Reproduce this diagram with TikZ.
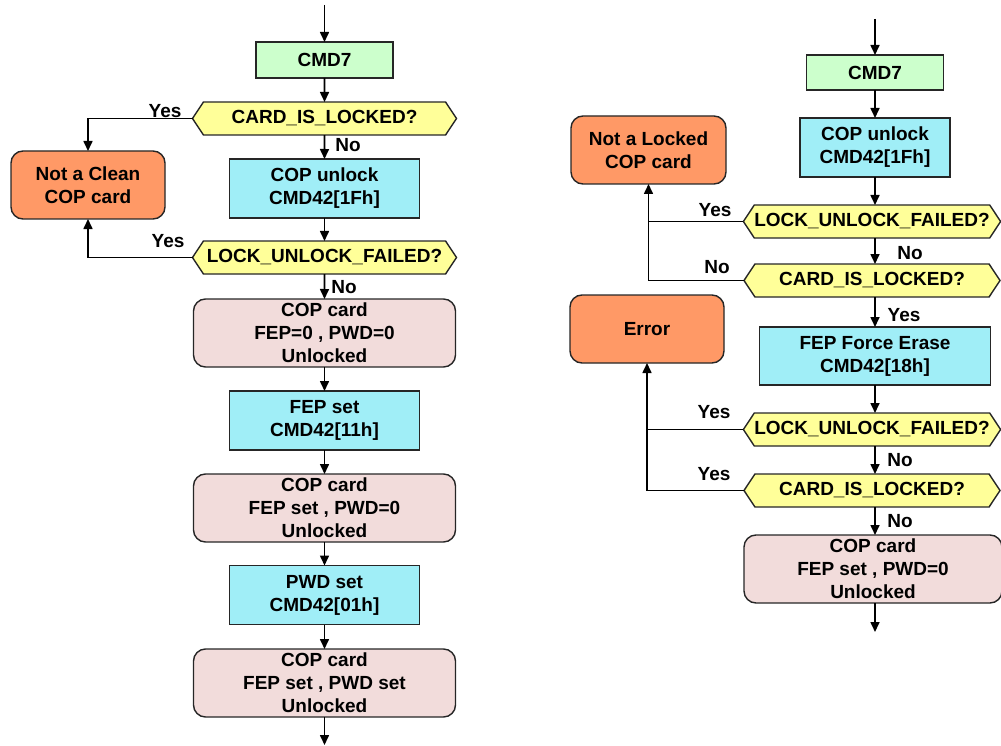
\documentclass[tikz,border=0pt]{standalone}
\usepackage{fontspec}
\setmainfont{Liberation Sans}
\usetikzlibrary{arrows.meta,shapes.symbols,calc}
\definecolor{cgreen}{HTML}{CCFFCC}
\definecolor{ccyan}{HTML}{A0EEF7}
\definecolor{corange}{HTML}{FF9966}
\definecolor{cpink}{HTML}{F2DCDB}
\definecolor{cyellow}{HTML}{FFFF99}
\definecolor{cborder}{HTML}{262626}
\begin{document}
\begin{tikzpicture}[x=1pt,y=-1pt,
  every node/.style={font=\fontsize{19}{23}\selectfont\bfseries, inner sep=0pt, outer sep=0pt, align=center},
  boxbase/.style={draw=cborder, line width=1.4pt, rectangle},
  cmdbox/.style={boxbase, fill=cgreen, minimum width=137pt, minimum height=36pt},
  opbox/.style={boxbase, fill=ccyan, minimum height=59pt},
  statebox/.style={boxbase, fill=cpink, rounded corners=12pt, minimum width=262pt, minimum height=68pt},
  errbox/.style={boxbase, fill=corange, rounded corners=12pt, minimum width=154pt, minimum height=68pt},
  hexbox/.style={draw=cborder, line width=1.4pt, fill=cyellow, signal, signal to=west and east,
     signal pointer angle=113, minimum width=264pt, minimum height=33pt},
  lbl/.style={draw=none, fill=none},
  conn/.style={line width=1.6pt, -{Triangle[length=10pt,width=9pt]}},
  plainline/.style={line width=1.6pt}]
\useasboundingbox (0,0) rectangle (1001,746);
\clip (0,0) rectangle (1001,746);

% ---------- left column ----------
\coordinate (startL) at (324.5,5);
\node[cmdbox] (cmd7L) at (324.5,60) {CMD7};
\node[hexbox] (q1L) at (324.5,118.5) {CARD\_IS\_LOCKED?};
\node[opbox, minimum width=190pt] (unlockL) at (324.5,188.5) {COP unlock\\CMD42[1Fh]};
\node[hexbox] (q2L) at (324.5,257.5) {LOCK\_UNLOCK\_FAILED?};
\node[statebox] (card1L) at (324.5,333) {COP card\\FEP=0 , PWD=0\\Unlocked};
\node[opbox, minimum width=190pt] (fepL) at (324.5,420.5) {FEP set\\CMD42[11h]};
\node[statebox] (card2L) at (324.5,508) {COP card\\FEP set , PWD=0\\Unlocked};
\node[opbox, minimum width=190pt] (pwdL) at (324.5,595) {PWD set\\CMD42[01h]};
\node[statebox] (card3L) at (324.5,683) {COP card\\FEP set , PWD set\\Unlocked};
\coordinate (endL) at (324.5,745);
\node[errbox] (notClean) at (88,185) {Not a Clean\\COP card};

\draw[conn] (startL) -- (cmd7L);
\draw[conn] (cmd7L) -- (q1L);
\draw[conn] (q1L) -- (unlockL);
\draw[conn] (unlockL) -- (q2L);
\draw[conn] (q2L) -- (card1L);
\draw[conn] (card1L) -- (fepL);
\draw[conn] (fepL) -- (card2L);
\draw[conn] (card2L) -- (pwdL);
\draw[conn] (pwdL) -- (card3L);
\draw[conn] (card3L) -- (endL);
\draw[conn] (q1L.west) -| (notClean.north);
\draw[conn] (q2L.west) -| (notClean.south);

\node[lbl] (ly1) at (165,111) {Yes};
\node[lbl] (ly2) at (168,241) {Yes};
\node[lbl] (ln1) at (348,145) {No};
\node[lbl] (ln2) at (344,287) {No};

% ---------- right column ----------
\coordinate (startR) at (875,19);
\node[cmdbox, minimum height=35pt] (cmd7R) at (875,72.5) {CMD7};
\node[opbox, minimum width=150pt] (unlockR) at (875,147.5) {COP unlock\\CMD42[1Fh]};
\node[hexbox, minimum width=256pt] (q2R1) at (872,221.5) {LOCK\_UNLOCK\_FAILED?};
\node[hexbox, minimum width=256pt] (q1R1) at (872,280.5) {CARD\_IS\_LOCKED?};
\node[opbox, minimum width=231pt, minimum height=58pt] (force) at (875,356) {FEP Force Erase\\CMD42[18h]};
\node[hexbox, minimum width=256pt] (q2R2) at (872,429.5) {LOCK\_UNLOCK\_FAILED?};
\node[hexbox, minimum width=256pt] (q1R2) at (872,490.5) {CARD\_IS\_LOCKED?};
\node[statebox, minimum width=258pt] (card4) at (873,569) {COP card\\FEP set , PWD=0\\Unlocked};
\coordinate (endR) at (875,632);
\node[errbox, minimum width=155pt] (notLocked) at (648.5,150) {Not a Locked\\COP card};
\node[errbox] (error) at (647,329) {Error};

\draw[conn] (startR) -- (cmd7R);
\draw[conn] (cmd7R) -- (unlockR);
\draw[conn] (unlockR) -- (unlockR |- q2R1.north);
\draw[conn] (q2R1.south -| unlockR) -- (q1R1.north -| unlockR);
\draw[conn] (q1R1.south -| unlockR) -- (force);
\draw[conn] (force) -- (force |- q2R2.north);
\draw[conn] (q2R2.south -| force) -- (q1R2.north -| force);
\draw[conn] (q1R2.south -| force) -- (card4.north -| force);
\draw[conn] (card4.south -| force) -- (endR);
\draw[plainline] (q2R1.west) -- (q2R1.west -| notLocked.south);
\draw[conn] (q1R1.west) -| (notLocked.south);
\draw[plainline] (q2R2.west) -- (q2R2.west -| error.south);
\draw[conn] (q1R2.west) -| (error.south);

\node[lbl] (ry1) at (715,210) {Yes};
\node[lbl] (rn1) at (910,253) {No};
\node[lbl] (rn2) at (717,267) {No};
\node[lbl] (ry2) at (904,315) {Yes};
\node[lbl] (ry3) at (714,412) {Yes};
\node[lbl] (rn3) at (900,460) {No};
\node[lbl] (ry4) at (714,474.5) {Yes};
\node[lbl] (rn4) at (900,521) {No};
\end{tikzpicture}
\end{document}
